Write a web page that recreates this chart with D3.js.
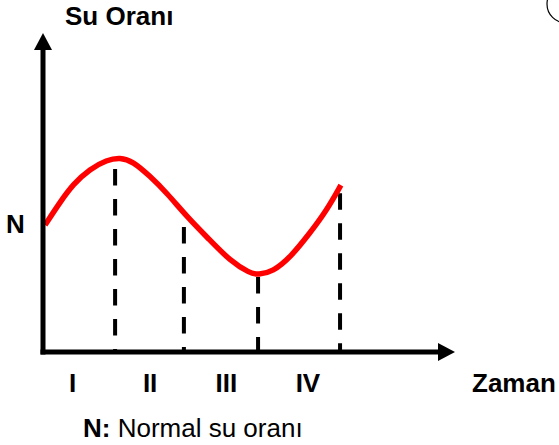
<!DOCTYPE html>
<meta charset="utf-8">
<style>
body { margin: 0; background: #fff; }
text { font-family: "Liberation Sans", Arial, sans-serif; fill: #000; }
.lbl { font-weight: bold; font-size: 26px; }
.curve { fill: none; stroke: #ff0000; stroke-width: 5.5px; }
.drop { stroke: #000; stroke-width: 4px; stroke-dasharray: 16.5,13.5; }
.ax { stroke: #000; stroke-width: 5px; }
</style>
<svg width="559" height="445"></svg>
<script src="https://cdn.jsdelivr.net/npm/d3@7"></script>
<script>
// time (0-100) and water ratio (0-100)
var curveT = [0.5, 4.1, 7.3, 11.4, 15.5, 18.7, 21.8, 25.9, 30.1, 35, 40.5, 45.4, 50.2, 52.2, 55.8, 60, 64.8, 68.9, 72.3];
var curveV = [39.8, 46.9, 52.6, 57.4, 60.2, 61, 59.8, 55.2, 49.8, 42.3, 35.1, 28.6, 24.7, 24.2, 25.2, 29.6, 37.3, 44.5, 52.3];

// period boundaries (dashed drops) and where they start
var boundT = [17.5, 34.2, 52.2, 72.1];
var boundTop = [57.4, 39.2, 23.5, 49.8];

var periods = ["I", "II", "III", "IV"];
var periodT = [7.2, 26, 44.5, 64.3];
var normalV = 40;

var svg = d3.select("svg");

var x = d3.scaleLinear().domain([0, 100]).range([43, 455]);
var y = d3.scaleLinear().domain([0, 100]).range([352, 33]);

// dashed drop lines
svg.selectAll(".drop")
  .data(boundT)
  .enter().append("line")
  .attr("class", "drop")
  .attr("x1", function(d) { return x(d); })
  .attr("x2", function(d) { return x(d); })
  .attr("y1", function(d, i) { return y(boundTop[i]); })
  .attr("y2", y(0));

// red curve
var pts = curveT.map(function(t, i) { return [t, curveV[i]]; });
var line = d3.line()
  .x(function(d) { return x(d[0]); })
  .y(function(d) { return y(d[1]); })
  .curve(d3.curveBasis);

svg.append("path")
  .datum(pts)
  .attr("class", "curve")
  .attr("d", line);

// axes with arrow heads
svg.append("line").attr("class", "ax")
  .attr("x1", x(0)).attr("x2", x(0))
  .attr("y1", y(0) + 2.5).attr("y2", y(100) + 15);
svg.append("path")
  .attr("d", "M" + x(0) + "," + y(100) + "L" + (x(0) - 9) + "," + (y(100) + 17) + "L" + (x(0) + 9) + "," + (y(100) + 17) + "Z")
  .attr("fill", "#000");

svg.append("line").attr("class", "ax")
  .attr("x1", x(0) - 2.5).attr("x2", x(100) - 15)
  .attr("y1", y(0)).attr("y2", y(0));
svg.append("path")
  .attr("d", "M" + x(100) + "," + y(0) + "L" + (x(100) - 17) + "," + (y(0) - 9) + "L" + (x(100) - 17) + "," + (y(0) + 9) + "Z")
  .attr("fill", "#000");

// labels
svg.append("text").attr("class", "lbl")
  .attr("x", 65).attr("y", 25)
  .text("Su Oranı");

svg.append("text").attr("class", "lbl")
  .attr("x", 6).attr("y", y(normalV) + 9)
  .text("N");

svg.selectAll(".per")
  .data(periods)
  .enter().append("text")
  .attr("class", "lbl per")
  .attr("text-anchor", "middle")
  .attr("x", function(d, i) { return x(periodT[i]); })
  .attr("y", 392)
  .text(function(d) { return d; });

svg.append("text").attr("class", "lbl")
  .attr("x", 472).attr("y", 392)
  .text("Zaman");

var note = svg.append("text")
  .attr("x", 83).attr("y", 437)
  .style("font-size", "26px");
note.append("tspan").style("font-weight", "bold").text("N:");
note.append("tspan").text(" Normal su oranı");

// bit of the logo ring in the corner
svg.append("circle")
  .attr("cx", 566).attr("cy", 4).attr("r", 19)
  .attr("fill", "none").attr("stroke", "#000").attr("stroke-width", 1.2);
</script>
